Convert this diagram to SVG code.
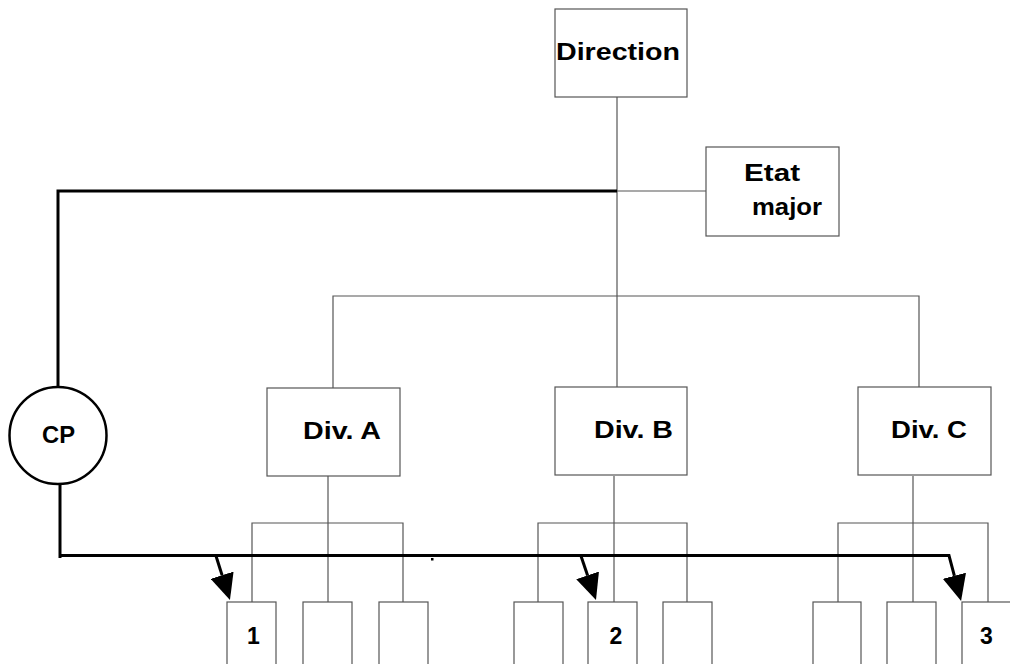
<svg xmlns="http://www.w3.org/2000/svg" width="1010" height="664" viewBox="0 0 1010 664">
  <style>
    .box { fill: #fff; stroke: #555; stroke-width: 1.2; }
    .thin { fill: none; stroke: #555; stroke-width: 1.2; }
    .thick { fill: none; stroke: #000; stroke-width: 3; }
    .lbl { font-family: "Liberation Sans", Arial, sans-serif; font-weight: bold; font-size: 23px; fill: #000; }
  </style>
  <defs>
    <marker id="head" markerUnits="userSpaceOnUse" viewBox="0 0 26 24" refX="0" refY="12" markerWidth="26" markerHeight="24" orient="auto">
      <path d="M0,0 L26,12 L0,24 Z" fill="#000"/>
    </marker>
  </defs>

  <rect width="1010" height="664" fill="#fff"/>

  <!-- hierarchy and liaison lines -->
  <g id="connectors">
    <!-- Direction down to Div. B, with branch bar -->
    <path class="thin" d="M617,97 V387"/>
    <path class="thin" d="M617,191 H706"/>
    <path class="thin" d="M333,388 V296 H919 V387"/>
    <!-- Div. A sub-units -->
    <path class="thin" d="M328,476 V602"/>
    <path class="thin" d="M252,602 V523 H403 V602"/>
    <!-- Div. B sub-units -->
    <path class="thin" d="M614,476 V602"/>
    <path class="thin" d="M538,602 V523 H687 V602"/>
    <!-- Div. C sub-units -->
    <path class="thin" d="M913,476 V602"/>
    <path class="thin" d="M838,602 V523 H988 V602"/>
    <!-- CP liaison lines -->
    <path class="thick" d="M617,191 H58 V387"/>
    <path class="thick" d="M60,484 V558"/>
    <path class="thick" d="M60,555.5 H949 L954.4,575.8" marker-end="url(#head)"/>
    <path class="thick" d="M216,556 L222.1,575.2" marker-end="url(#head)"/>
    <path class="thick" d="M581,556 L587.6,575.4" marker-end="url(#head)"/>
    <rect x="431" y="558" width="2.5" height="2.5" fill="#000"/>
  </g>

  <g id="direction">
    <rect class="box" x="555" y="9" width="132" height="88"/>
    <text class="lbl" x="556" y="60" textLength="124" lengthAdjust="spacingAndGlyphs">Direction</text>
  </g>

  <g id="etat-major">
    <rect class="box" x="706" y="147" width="133" height="89"/>
    <text class="lbl" x="744" y="181" textLength="56" lengthAdjust="spacingAndGlyphs">Etat</text>
    <text class="lbl" x="752" y="215" textLength="70" lengthAdjust="spacingAndGlyphs">major</text>
  </g>

  <g id="cp">
    <circle cx="58" cy="435.5" r="48.5" fill="#fff" stroke="#000" stroke-width="2.5"/>
    <text class="lbl" x="42" y="443" textLength="33" lengthAdjust="spacingAndGlyphs">CP</text>
  </g>

  <g id="div-a">
    <rect class="box" x="267" y="388" width="133" height="88"/>
    <text class="lbl" x="303" y="439" textLength="78" lengthAdjust="spacingAndGlyphs">Div. A</text>
  </g>

  <g id="div-b">
    <rect class="box" x="555" y="387" width="132" height="88"/>
    <text class="lbl" x="594" y="438" textLength="79" lengthAdjust="spacingAndGlyphs">Div. B</text>
  </g>

  <g id="div-c">
    <rect class="box" x="858" y="387" width="133" height="88"/>
    <text class="lbl" x="891" y="438" textLength="76" lengthAdjust="spacingAndGlyphs">Div. C</text>
  </g>

  <!-- sub-units of Div. A -->
  <g id="unit-a1">
    <rect class="box" x="227" y="602" width="49" height="80"/>
    <text class="lbl" x="253.5" y="644" text-anchor="middle">1</text>
  </g>
  <g id="unit-a2"><rect class="box" x="303" y="602" width="49" height="80"/></g>
  <g id="unit-a3"><rect class="box" x="379" y="602" width="49" height="80"/></g>

  <!-- sub-units of Div. B -->
  <g id="unit-b1"><rect class="box" x="514" y="602" width="49" height="80"/></g>
  <g id="unit-b2">
    <rect class="box" x="588" y="602" width="49" height="80"/>
    <text class="lbl" x="616" y="644" text-anchor="middle">2</text>
  </g>
  <g id="unit-b3"><rect class="box" x="663" y="602" width="49" height="80"/></g>

  <!-- sub-units of Div. C -->
  <g id="unit-c1"><rect class="box" x="813" y="602" width="48" height="80"/></g>
  <g id="unit-c2"><rect class="box" x="887" y="602" width="49" height="80"/></g>
  <g id="unit-c3">
    <rect class="box" x="962" y="602" width="49" height="80"/>
    <text class="lbl" x="986.5" y="644" text-anchor="middle">3</text>
  </g>
</svg>
